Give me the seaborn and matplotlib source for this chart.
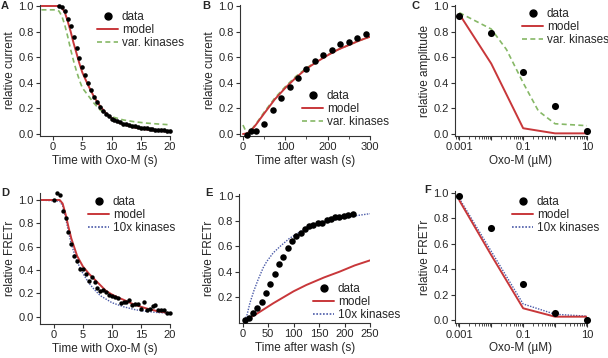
import numpy as np
import pandas as pd
import matplotlib
matplotlib.use("Agg")
import matplotlib.pyplot as plt
import matplotlib.ticker as mticker
from matplotlib.lines import Line2D
import seaborn as sns

sns.set_style("ticks")
plt.rcParams['font.family'] = ['Liberation Sans', 'DejaVu Sans']
plt.rcParams['font.size'] = 8.5

RED = "#c8373a"
GREEN = "#86b866"
BLUE = "#4a5aa8"

# ---------- Panel A ----------
a_data_t = [1.0, 1.5, 2.0, 2.5, 3.0, 3.5, 4.0, 4.5, 5.0, 5.5, 6.0, 6.5, 7.0, 7.5, 8.0, 8.5,
            9.0, 9.5, 10.0, 10.5, 11.0, 11.5, 12.0, 12.5, 13.0, 13.5, 14.0, 14.5, 15.0,
            15.5, 16.0, 16.5, 17.0, 17.5, 18.0, 18.5, 19.0, 19.5, 20.0]
a_data_y = [1.00, 0.99, 0.96, 0.90, 0.84, 0.76, 0.67, 0.59, 0.52, 0.46, 0.40, 0.34, 0.29,
            0.25, 0.21, 0.18, 0.16, 0.14, 0.12, 0.11, 0.10, 0.09, 0.08, 0.075, 0.07, 0.065,
            0.06, 0.055, 0.05, 0.047, 0.044, 0.041, 0.038, 0.035, 0.032, 0.030, 0.028,
            0.026, 0.024]
a_model_t = [-2.0, 1.0, 1.5, 2.0, 2.5, 3.0, 3.5, 4.0, 4.5, 5.0, 5.5, 6.0, 7.0, 8.0, 9.0,
             10.0, 11.0, 12.0, 14.0, 16.0, 18.0, 20.0]
a_model_y = [1.0, 1.0, 0.985, 0.95, 0.88, 0.80, 0.71, 0.63, 0.55, 0.48, 0.43, 0.38, 0.29,
             0.22, 0.165, 0.125, 0.095, 0.075, 0.05, 0.035, 0.025, 0.018]
a_var_t = [-2.0, 0.5, 1.0, 1.5, 2.0, 2.5, 3.0, 3.5, 4.0, 4.5, 5.0, 6.0, 7.0, 8.0, 9.0,
           10.0, 12.0, 14.0, 16.0, 18.0, 20.0]
a_var_y = [0.97, 0.97, 0.96, 0.92, 0.85, 0.76, 0.66, 0.57, 0.49, 0.42, 0.36, 0.30, 0.24,
           0.19, 0.155, 0.135, 0.11, 0.095, 0.085, 0.078, 0.072]

# ---------- Panel B ----------
b_data_t = [10, 20, 30, 50, 70, 90, 110, 130, 150, 170, 190, 210, 230, 250, 270, 290]
b_data_y = [-0.005, 0.02, 0.02, 0.08, 0.19, 0.28, 0.37, 0.44, 0.51, 0.57, 0.62, 0.66,
            0.70, 0.72, 0.75, 0.78]
b_model_t = [0, 10, 20, 30, 50, 75, 100, 125, 150, 175, 200, 225, 250, 275, 300]
b_model_y = [0.0, 0.005, 0.03, 0.07, 0.16, 0.27, 0.36, 0.44, 0.51, 0.565, 0.615, 0.66,
             0.695, 0.73, 0.76]
b_var_t = [0, 10, 20, 30, 50, 75, 100, 125, 150, 175, 200, 225, 250, 275, 300]
b_var_y = [0.07, 0.0, 0.035, 0.075, 0.17, 0.28, 0.37, 0.45, 0.515, 0.57, 0.62, 0.66,
           0.695, 0.73, 0.76]

# ---------- Panel C ----------
c_conc = [0.001, 0.01, 0.1, 1, 10]
c_data_y = [0.924, 0.79, 0.484, 0.215, 0.02]
c_model_y = [0.937, 0.55, 0.045, 0.005, 0.005]
c_var_conc = [0.001, 0.01, 0.03, 0.1, 0.3, 1, 10]
c_var_y = [0.948, 0.82, 0.66, 0.40, 0.18, 0.08, 0.065]

# ---------- Panel D ----------
d_data_t = [0.0, 0.5, 1.0, 1.5, 2.0, 2.5, 3.0, 3.5, 4.0, 4.5, 5.0, 5.5, 6.0, 6.5, 7.0,
            7.5, 8.0, 8.5, 9.0, 9.5, 10.0, 10.5, 11.0, 11.5, 12.0, 12.5, 13.0, 13.5,
            14.0, 14.5, 15.0, 15.5, 16.0, 16.5, 17.0, 17.5, 18.0, 18.5, 19.0, 19.5, 20.0]
d_data_y = [1.00, 1.06, 1.04, 0.91, 0.85, 0.73, 0.62, 0.52, 0.48, 0.41, 0.41, 0.37, 0.31,
            0.34, 0.30, 0.25, 0.22, 0.23, 0.21, 0.19, 0.18, 0.17, 0.16, 0.12, 0.13, 0.13,
            0.14, 0.10, 0.11, 0.11, 0.07, 0.13, 0.06, 0.07, 0.09, 0.10, 0.06, 0.06, 0.06,
            0.03, 0.03]
d_model_t = [-2.4, 1.0, 1.5, 2.0, 2.5, 3.0, 4.0, 5.0, 6.0, 7.0, 8.0, 9.0, 10.0, 11.0,
             12.0, 14.0, 16.0, 18.0, 20.0]
d_model_y = [1.0, 1.0, 0.97, 0.88, 0.77, 0.67, 0.52, 0.43, 0.37, 0.32, 0.27, 0.22, 0.19,
             0.165, 0.145, 0.10, 0.07, 0.045, 0.03]
d_kin_t = [-2.4, 1.0, 1.5, 2.0, 2.5, 3.0, 4.0, 5.0, 6.0, 7.0, 8.0, 10.0, 12.0, 14.0,
           16.0, 18.0, 20.0]
d_kin_y = [1.0, 0.99, 0.95, 0.85, 0.73, 0.62, 0.47, 0.37, 0.29, 0.23, 0.18, 0.12, 0.085,
           0.06, 0.045, 0.035, 0.03]

# ---------- Panel E ----------
e_data_t = [4, 12, 20, 29, 37, 46, 54, 63, 71, 80, 88, 97, 105, 114, 122, 131, 139, 148,
            156, 165, 173, 182, 190, 199, 207, 216]
e_data_y = [0.02, 0.03, 0.07, 0.11, 0.16, 0.23, 0.30, 0.38, 0.46, 0.52, 0.59, 0.64, 0.68,
            0.71, 0.74, 0.76, 0.77, 0.79, 0.79, 0.81, 0.82, 0.83, 0.83, 0.84, 0.85, 0.86]
e_model_t = [3, 25, 60, 100, 125, 160, 190, 220, 250]
e_model_y = [0.013, 0.06, 0.15, 0.245, 0.295, 0.355, 0.40, 0.45, 0.49]
e_kin_t = [3, 8, 14, 22, 30, 40, 47, 60, 76, 92, 110, 125, 158, 191, 224, 250]
e_kin_y = [0.015, 0.05, 0.15, 0.25, 0.335, 0.43, 0.48, 0.55, 0.61, 0.665, 0.71, 0.745,
           0.79, 0.82, 0.845, 0.86]

# ---------- Panel F ----------
f_conc = [0.001, 0.01, 0.1, 1, 10]
f_data_y = [0.974, 0.72, 0.283, 0.058, 0.0]
f_model_y = [0.94, 0.51, 0.092, 0.026, 0.026]
f_kin_y = [0.955, 0.54, 0.126, 0.045, 0.03]

W, H = 608, 358
fig = plt.figure(figsize=(W / 100, H / 100), dpi=100)


def add_ax(left, right, top, bottom):
    return fig.add_axes([left / W, (H - bottom) / H, (right - left) / W, (bottom - top) / H])


def style(ax):
    sns.despine(ax=ax)
    for s in ("left", "bottom"):
        ax.spines[s].set_color("#333333")
        ax.spines[s].set_linewidth(0.8)
    ax.tick_params(axis="both", which="major", direction="out", length=3, width=0.8,
                   color="#333333", labelsize=8, pad=1.5)
    ax.tick_params(axis="both", which="minor", direction="out", length=1.8, width=0.6,
                   color="#333333")
    ax.yaxis.set_major_formatter(mticker.FormatStrFormatter("%.1f"))
    ax.set_facecolor("none")


def scat(ax, x, y, size):
    sns.scatterplot(x=x, y=y, ax=ax, color="black", s=size, linewidth=0,
                    legend=False, zorder=3, clip_on=False)


def line(ax, x, y, color, ls, lw):
    sns.lineplot(x=x, y=y, ax=ax, color=color, linewidth=lw, linestyle=ls,
                 legend=False, zorder=2, sort=False)


def legend(ax, x_px, top_px, third, third_color, third_ls):
    handles = [
        Line2D([], [], color="black", marker="o", linestyle="none", markersize=5),
        Line2D([], [], color=RED, linewidth=1.4),
        Line2D([], [], color=third_color, linewidth=1.2, linestyle=third_ls),
    ]
    ax.legend(handles, ["data", "model", third], loc="upper left",
              bbox_to_anchor=(x_px / W, 1 - top_px / H), bbox_transform=fig.transFigure,
              frameon=False, borderpad=0, handlelength=1.8, handletextpad=0.3,
              labelspacing=0.08, fontsize=8.5, borderaxespad=0)


DASH = (0, (3, 2))
DOT = (0, (1, 1))

# A
axA = add_ax(40, 170, 5, 136)
line(axA, a_var_t, a_var_y, GREEN, DASH, 1.2)
line(axA, a_model_t, a_model_y, RED, "-", 1.4)
scat(axA, a_data_t, a_data_y, 11)
axA.set_xlim(-2.25, 20)
axA.set_ylim(-0.0156, 1.0078)
axA.set_xticks([0, 5, 10, 15, 20])
axA.set_yticks([0, 0.2, 0.4, 0.6, 0.8, 1.0])
axA.set_xlabel("Time with Oxo-M (s)", labelpad=2)
axA.set_ylabel("relative current", labelpad=2)
style(axA)
legend(axA, 97, 11, "var. kinases", GREEN, DASH)

# B
axB = add_ax(240, 370, 5, 136)
line(axB, b_var_t, b_var_y, GREEN, DASH, 1.2)
line(axB, b_model_t, b_model_y, RED, "-", 1.4)
scat(axB, b_data_t, b_data_y, 22)
axB.set_xlim(-7, 300)
axB.set_ylim(-0.0156, 1.0078)
axB.set_xticks([0, 100, 200, 300])
axB.xaxis.set_minor_locator(mticker.MultipleLocator(50))
axB.set_yticks([0, 0.2, 0.4, 0.6, 0.8, 1.0])
axB.set_xlabel("Time after wash (s)", labelpad=2)
axB.set_ylabel("relative current", labelpad=2)
style(axB)
legend(axB, 302, 90, "var. kinases", GREEN, DASH)


def logaxis(ax):
    ax.set_xscale("log")
    ax.set_xlim(0.001 * 10 ** (-0.135), 10)
    ax.xaxis.set_major_locator(mticker.LogLocator(base=10, numticks=10))
    ax.xaxis.set_minor_locator(mticker.LogLocator(base=10, subs=np.arange(2, 10), numticks=10))
    ax.xaxis.set_minor_formatter(mticker.NullFormatter())
    labels = {0.001: "0.001", 0.1: "0.1", 10: "10"}

    def fmt(v, pos):
        for k, s in labels.items():
            if abs(np.log10(v) - np.log10(k)) < 1e-6:
                return s
        return ""
    ax.xaxis.set_major_formatter(mticker.FuncFormatter(fmt))
    ax.set_xlabel("Oxo-M (\u00b5M)", labelpad=2)


# C
axC = add_ax(455, 587, 5, 136)
line(axC, c_var_conc, c_var_y, GREEN, DASH, 1.2)
line(axC, c_conc, c_model_y, RED, "-", 1.4)
scat(axC, c_conc, c_data_y, 26)
logaxis(axC)
axC.set_ylim(-0.0156, 1.0078)
axC.set_yticks([0, 0.2, 0.4, 0.6, 0.8, 1.0])
axC.set_ylabel("relative amplitude", labelpad=2)
style(axC)
legend(axC, 522, 8, "var. kinases", GREEN, DASH)

# D
axD = add_ax(40, 170, 192.7, 324)
line(axD, d_kin_t, d_kin_y, BLUE, DOT, 1.0)
line(axD, d_model_t, d_model_y, RED, "-", 1.4)
scat(axD, d_data_t, d_data_y, 10)
axD.set_xlim(-2.4, 20)
axD.set_ylim(-0.0626, 1.0626)
axD.set_xticks([0, 5, 10, 15, 20])
axD.set_yticks([0, 0.2, 0.4, 0.6, 0.8, 1.0])
axD.set_xlabel("Time with Oxo-M (s)", labelpad=2)
axD.set_ylabel("relative FRETr", labelpad=2)
style(axD)
legend(axD, 88, 196, "10x kinases", BLUE, DOT)

# E
axE = add_ax(239.3, 370, 194, 322.7)
line(axE, e_kin_t, e_kin_y, BLUE, DOT, 1.0)
line(axE, e_model_t, e_model_y, RED, "-", 1.4)
scat(axE, e_data_t, e_data_y, 22)
axE.set_xlim(-6.7, 250)
axE.set_ylim(-0.004, 1.016)
axE.set_xticks([0, 50, 100, 150, 200, 250])
axE.set_yticks([0.2, 0.4, 0.6, 0.8, 1.0])
axE.set_xlabel("Time after wash (s)", labelpad=2)
axE.set_ylabel("relative FRETr", labelpad=2)
style(axE)
legend(axE, 313, 283, "10x kinases", BLUE, DOT)

# F
axF = add_ax(455, 587, 190.7, 323.3)
line(axF, f_conc, f_kin_y, BLUE, DOT, 1.0)
line(axF, f_conc, f_model_y, RED, "-", 1.4)
scat(axF, f_conc, f_data_y, 26)
logaxis(axF)
axF.set_ylim(-0.026, 1.016)
axF.set_yticks([0, 0.2, 0.4, 0.6, 0.8, 1.0])
axF.set_ylabel("relative FRETr", labelpad=2)
style(axF)
legend(axF, 512, 196, "10x kinases", BLUE, DOT)

# panel letters
for letter, x, y in [("A", 1, 6), ("B", 202, 6), ("C", 411, 6),
                     ("D", 1, 193), ("E", 205, 193), ("F", 424, 190)]:
    fig.text(x / W, 1 - y / H, letter, fontsize=8, fontweight="bold",
             ha="left", va="center")

fig.savefig("out.png", dpi=100)
